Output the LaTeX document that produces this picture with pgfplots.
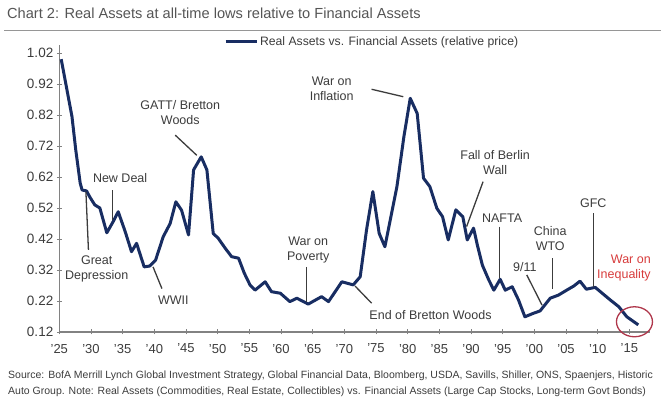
\documentclass[border=0pt]{standalone}
\usepackage{fontspec}
\setmainfont{Liberation Sans}
\usepackage{pgfplots}
\pgfplotsset{compat=1.18}
\definecolor{navy}{RGB}{24,45,98}
\definecolor{titlegray}{RGB}{85,85,85}
\definecolor{rulegray}{RGB}{150,150,150}
\definecolor{axisgray}{RGB}{130,130,130}
\definecolor{annotgray}{RGB}{60,60,60}
\definecolor{redtxt}{RGB}{215,60,60}
\definecolor{circred}{RGB}{175,55,75}
\tikzset{
  annot/.style={text=annotgray, font=\fontsize{12.5}{15}\selectfont, align=center, inner sep=0pt},
  lead/.style={draw=annotgray, line width=1.3pt},
}
\begin{document}
\begin{tikzpicture}
\useasboundingbox (0pt,0pt) rectangle (661pt,403pt);
\node[anchor=base west, text=titlegray, font=\fontsize{14.6}{16}\selectfont, inner sep=0pt] at (7pt,384pt) {Chart 2: Real Assets at all-time lows relative to Financial Assets};
\draw[rulegray, line width=0.8pt] (4pt,373pt) -- (661pt,373pt);
\begin{axis}[
  at={(59.3pt,71pt)}, anchor=south west,
  scale only axis, width=591pt, height=286.75pt,
  xmin=1925, xmax=2018.3, ymin=0.12, ymax=1.045,
  axis x line*=bottom, axis y line*=left,
  axis line style={axisgray, line width=1.1pt, -},
  tick style={axisgray, line width=0.9pt},
  tick align=center, major tick length=5pt,
  ytick={0.12,0.22,0.32,0.42,0.52,0.62,0.72,0.82,0.92,1.02},
  /pgf/number format/fixed, /pgf/number format/fixed zerofill,
  /pgf/number format/precision=2, /pgf/number format/assume math mode=true,
  yticklabel style={font=\fontsize{13.5}{15}\selectfont, text=annotgray},
  xtick={1925,1930,...,2015},
  xticklabels={'25,'30,'35,'40,'45,'50,'55,'60,'65,'70,'75,'80,'85,'90,'95,'00,'05,'10,'15},
  xticklabel style={font=\fontsize{13}{15}\selectfont, text=annotgray, yshift=-6pt},
  clip=false,
  legend cell align=left,
  legend style={at={(0.2785,1.012)}, anchor=west, draw=none, fill=none, inner sep=0pt,
    font=\fontsize{12.2}{14}\selectfont, text=annotgray},
  legend image code/.code={\draw[#1] (0pt,0pt) -- (31pt,0pt);},
]
\addplot[navy, line width=3pt, line join=round] coordinates {
(1925.3,1.00) (1927.0,0.815) (1927.6,0.707) (1928.3,0.60) (1928.6,0.578)
(1929.3,0.575) (1929.8,0.556) (1930.6,0.53) (1931.4,0.52) (1932.5,0.44)
(1933.5,0.476) (1934.3,0.508) (1935.4,0.444) (1936.4,0.379) (1937.2,0.406)
(1938.4,0.33) (1939.3,0.333) (1940.2,0.352) (1941.4,0.427) (1942.5,0.47)
(1943.4,0.54) (1944.3,0.513) (1945.4,0.433) (1946.2,0.643) (1947.4,0.685)
(1948.3,0.643) (1949.3,0.438) (1950.1,0.422) (1951.2,0.39) (1952.2,0.363)
(1953.3,0.358) (1954.2,0.31) (1955.1,0.272) (1955.9,0.255) (1957.5,0.282)
(1958.5,0.25) (1959.9,0.245) (1961.4,0.218) (1962.5,0.229) (1964.3,0.21)
(1966.4,0.234) (1967.5,0.218) (1969.6,0.282) (1971.4,0.272) (1972.5,0.298)
(1973.5,0.449) (1974.5,0.573) (1975.5,0.438) (1976.4,0.395) (1978.3,0.589)
(1979.4,0.75) (1980.4,0.874) (1981.5,0.825) (1982.5,0.616) (1983.5,0.589)
(1984.6,0.519) (1985.5,0.492) (1986.4,0.417) (1987.6,0.514) (1988.7,0.492)
(1989.4,0.417) (1990.4,0.455) (1991.0,0.40) (1991.8,0.335) (1992.8,0.288)
(1993.6,0.255) (1994.6,0.29) (1995.4,0.255) (1996.5,0.266) (1997.5,0.223)
(1998.5,0.169) (1999.8,0.18) (2000.9,0.188) (2002.5,0.229) (2003.8,0.239)
(2005.1,0.255) (2006.2,0.268) (2007.2,0.284) (2008.2,0.258) (2009.6,0.264)
(2012.0,0.223) (2013.3,0.202) (2014.6,0.169) (2016.4,0.143)
};
\addlegendentry{Real Assets vs. Financial Assets (relative price)}
% annotations
\node[annot] at (axis cs:1930.9,0.323) {Great\\Depression};
\draw[lead] (axis cs:1929.2,0.573) -- (axis cs:1929.6,0.385);
\node[annot] at (axis cs:1934.6,0.618) {New Deal};
\draw[lead] (axis cs:1933.4,0.578) -- (axis cs:1933.4,0.48);
\node[annot] at (axis cs:1944.1,0.828) {GATT/ Bretton\\Woods};
\draw[lead] (axis cs:1943.3,0.755) -- (axis cs:1946.7,0.69);
\node[annot] at (axis cs:1943.0,0.223) {WWII};
\draw[lead] (axis cs:1939.8,0.33) -- (axis cs:1941.2,0.26);
\node[annot] at (axis cs:1964.3,0.386) {War on\\Poverty};
\draw[lead] (axis cs:1964,0.33) -- (axis cs:1964,0.218);
\node[annot] at (axis cs:1968.0,0.906) {War on\\Inflation};
\draw[lead] (axis cs:1974.3,0.903) -- (axis cs:1979.3,0.879);
\node[annot] at (axis cs:1983.6,0.175) {End of Bretton Woods};
\draw[lead] (axis cs:1971.7,0.268) -- (axis cs:1974.3,0.213);
\node[annot] at (axis cs:1993.8,0.667) {Fall of Berlin\\Wall};
\draw[lead] (axis cs:1991.9,0.605) -- (axis cs:1989.3,0.46);
\node[annot] at (axis cs:1994.9,0.487) {NAFTA};
\draw[lead] (axis cs:1994.5,0.46) -- (axis cs:1994.5,0.293);
\node[annot] at (axis cs:2002.5,0.42) {China\\WTO};
\draw[lead] (axis cs:2002.9,0.358) -- (axis cs:2002.9,0.26);
\node[annot] at (axis cs:1998.5,0.331) {9/11};
\draw[lead] (axis cs:1998.8,0.304) -- (axis cs:2001.2,0.207);
\node[annot] at (axis cs:2009.3,0.535) {GFC};
\draw[lead] (axis cs:2009.3,0.503) -- (axis cs:2009.3,0.264);
\node[annot, text=redtxt, align=right, anchor=east] at (axis cs:2018.4,0.328) {War on\\Inequality};
\draw[circred, line width=1.3pt] (axis cs:2015.8,0.153) ellipse [x radius=18pt, y radius=15pt];
\end{axis}
\node[anchor=base west, text=annotgray, font=\fontsize{10.5}{13}\selectfont, inner sep=0pt] at (8pt,24pt) {Source: BofA Merrill Lynch Global Investment Strategy, Global Financial Data, Bloomberg, USDA, Savills, Shiller, ONS, Spaenjers, Historic};
\node[anchor=base west, text=annotgray, font=\fontsize{10.5}{13}\selectfont, inner sep=0pt] at (8pt,8pt) {Auto Group. Note: Real Assets (Commodities, Real Estate, Collectibles) vs. Financial Assets (Large Cap Stocks, Long-term Govt Bonds)};
\end{tikzpicture}
\end{document}
